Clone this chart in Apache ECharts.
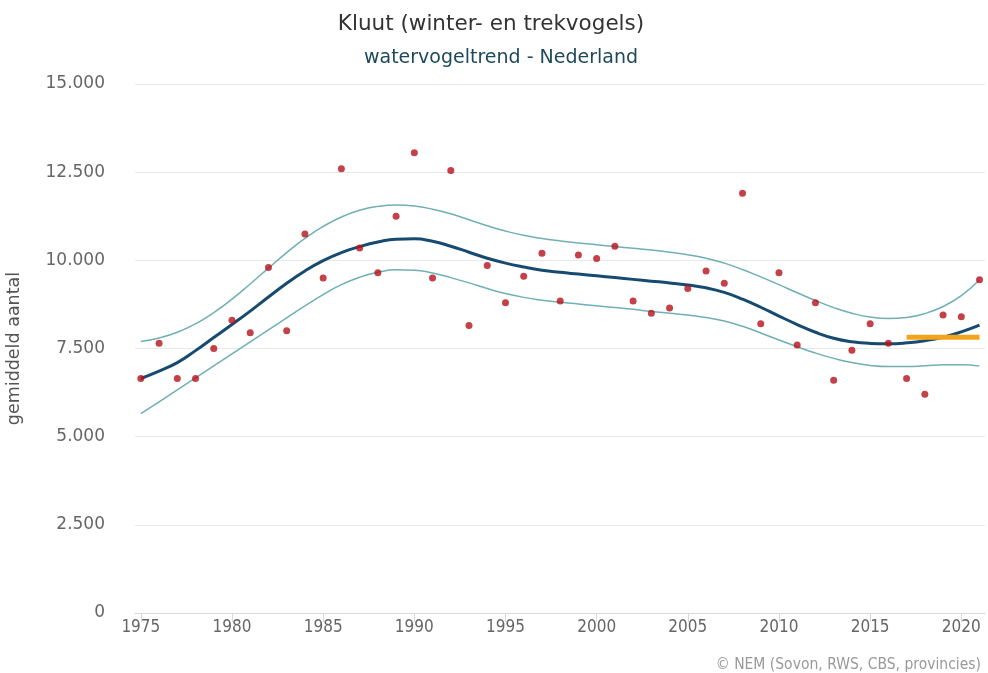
<!DOCTYPE html>
<html>
<head>
<meta charset="utf-8">
<script src="https://cdn.jsdelivr.net/npm/echarts@6/dist/echarts.min.js"></script>
<style>
html,body{margin:0;padding:0;background:#fff;}
#chart{width:988px;height:673px;}
</style>
</head>
<body>
<div id="chart"></div>
<script>
const years = [1975,1976,1977,1978,1979,1980,1981,1982,1983,1984,1985,1986,1987,1988,1989,1990,1991,1992,1993,1994,1995,1996,1997,1998,1999,2000,2001,2002,2003,2004,2005,2006,2007,2008,2009,2010,2011,2012,2013,2014,2015,2016,2017,2018,2019,2020,2021];
const counts = [6650,7650,6650,6650,7500,8300,7950,9800,8000,10750,9500,12600,10350,9650,11250,13050,9500,12550,8150,9850,8800,9550,10200,8850,10150,10050,10400,8850,8500,8650,9200,9700,9350,11900,8200,9650,7600,8800,6600,7450,8200,7650,6650,6200,8450,8400,9450];
const trend = [6650,6860,7100,7440,7810,8180,8560,8960,9350,9700,9990,10220,10390,10520,10600,10610,10540,10400,10230,10060,9920,9810,9720,9660,9610,9560,9510,9460,9410,9360,9300,9220,9090,8900,8670,8420,8180,7960,7790,7690,7645,7635,7660,7720,7820,7970,8160];
const upper = [7700,7800,7960,8200,8520,8900,9330,9780,10220,10620,10960,11230,11420,11530,11570,11540,11450,11320,11150,10980,10830,10710,10620,10550,10490,10440,10390,10340,10290,10230,10160,10060,9920,9740,9530,9310,9080,8860,8660,8500,8390,8350,8380,8490,8690,9000,9450];
const lower = [5650,5990,6330,6670,7010,7350,7690,8030,8370,8710,9030,9310,9520,9660,9730,9720,9640,9510,9360,9200,9060,8950,8870,8810,8760,8710,8660,8610,8550,8500,8450,8380,8280,8130,7940,7740,7550,7370,7220,7100,7020,6990,6990,7010,7040,7040,7000];
const refYears = [2017, 2021];
const refValue = [7820, 7820];
const xTicks = [1975,1980,1985,1990,1995,2000,2005,2010,2015,2020];
const yTicks = [0,2500,5000,7500,10000,12500,15000];

function fmt(v){ return String(v).replace(/\B(?=(\d{3})+(?!\d))/g, '.'); }
const pairs = (xs, ys) => xs.map((x,i)=>[x, ys[i]]);

const chart = echarts.init(document.getElementById('chart'));
const font = '"DejaVu Sans", "Noto Sans", sans-serif';
const narrow = '"Liberation Sans Narrow", "DejaVu Sans Condensed", sans-serif';
chart.setOption({
  animation: false,
  backgroundColor: '#ffffff',
  textStyle: { fontFamily: font },
  title: [
    { text: 'Kluut (winter- en trekvogels)', left: 486, top: 8, textAlign: 'center',
      textStyle: { fontSize: 21.5, fontWeight: 'normal', color: '#333333', fontFamily: font } },
    { text: 'watervogeltrend - Nederland', left: 496, top: 44, textAlign: 'center',
      textStyle: { fontSize: 19, fontWeight: 'normal', color: '#1d4a5a', fontFamily: font } },
    { text: '© NEM (Sovon, RWS, CBS, provincies)', right: 2, top: 652,
      textStyle: { fontSize: 15.5, fontWeight: 'normal', color: '#999999', fontFamily: narrow } }
  ],
  grid: { left: 135, right: 3, top: 84, bottom: 60, containLabel: false, outerBoundsMode: 'none' },
  xAxis: {
    type: 'value', min: 1974.68, max: 2021.3,
    splitLine: { show: false },
    axisLine: { show: true, lineStyle: { color: '#d8d8d8', width: 1 } },
    axisTick: { show: true, customValues: xTicks, length: 9, lineStyle: { color: '#d8d8d8' } },
    axisLabel: { customValues: xTicks, formatter: v => String(v), color: '#666666', fontSize: 17, margin: 6, fontFamily: narrow }
  },
  yAxis: {
    type: 'value', min: 0, max: 15000, interval: 2500,
    name: 'gemiddeld aantal', nameLocation: 'middle', nameGap: 112, nameRotate: 90,
    nameTextStyle: { color: '#555555', fontSize: 17.5, fontFamily: font },
    axisLine: { show: false }, axisTick: { show: false },
    splitLine: { lineStyle: { color: '#e8e8e8', width: 1 } },
    axisLabel: { formatter: v => fmt(v), color: '#666666', fontSize: 17, margin: 30, fontFamily: font }
  },
  series: [
    { type: 'line', name: 'upper', data: pairs(years, upper), smooth: 0.5, showSymbol: false,
      lineStyle: { color: '#6fb0b5', width: 1.5 }, z: 2 },
    { type: 'line', name: 'lower', data: pairs(years, lower), smooth: 0.5, showSymbol: false,
      lineStyle: { color: '#6fb0b5', width: 1.5 }, z: 2 },
    { type: 'line', name: 'trend', data: pairs(years, trend), smooth: 0.5, showSymbol: false,
      lineStyle: { color: '#174a70', width: 3 }, z: 3 },
    { type: 'line', name: 'ref', data: pairs(refYears, refValue), showSymbol: false,
      lineStyle: { color: '#f2a51c', width: 5 }, z: 4 },
    { type: 'scatter', name: 'counts', data: pairs(years, counts), symbolSize: 7,
      itemStyle: { color: '#b5121b' }, z: 5 }
  ]
});
</script>
</body>
</html>
